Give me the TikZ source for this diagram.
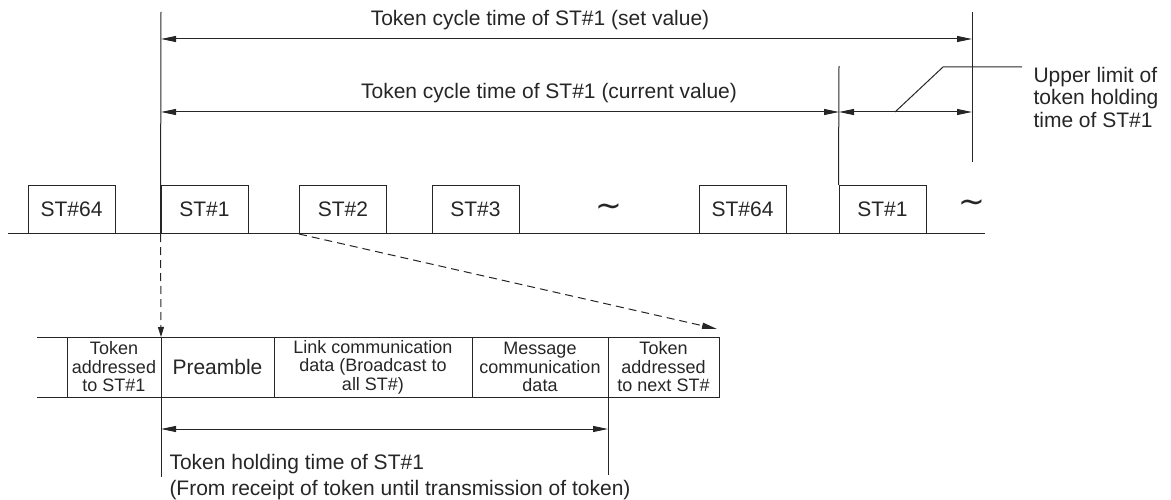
\documentclass[tikz,border=0pt]{standalone}
\usepackage{fontspec}
\setmainfont{Liberation Sans}
\newfontfamily\wavefont{DejaVu Sans}
\usetikzlibrary{arrows.meta, positioning}

\begin{document}
\begin{tikzpicture}[
    x=1pt, y=-1pt,
    color=black!85,
    line width=1pt,
    >={Triangle[length=15pt, width=6pt]},
    station/.style={draw, minimum width=87pt, minimum height=48pt, inner sep=0pt, font=\fontsize{21}{24}\selectfont},
    cell/.style={draw, minimum height=60pt, inner sep=0pt, outer sep=0pt, align=center, font=\fontsize{18}{18.5}\selectfont},
    timetext/.style={inner sep=0pt, font=\fontsize{21}{22.5}\selectfont},
    wave/.style={inner sep=0pt, font=\wavefont\fontsize{32}{32}\selectfont},
    dashedarrow/.style={->, dash pattern=on 8pt off 5pt}
]
\useasboundingbox (0,0) rectangle (1171,500);

% stations on the line
\foreach \name/\xc/\txt in {st64a/71.5/ST\#64, st1a/204.5/ST\#1, st2/343/ST\#2, st3/475.5/ST\#3, st64b/742.5/ST\#64, st1b/882.5/ST\#1} {
    \node[station] (\name) at (\xc,209.5) {\txt};
}
\node[wave] (gap1) at (609,210) {∼};
\node[wave] (gap2) at (972,206) {∼};
\coordinate (lineL) at (8,233.5);
\coordinate (lineR) at (985,233.5);
\draw (lineL) -- (lineR);

% time marks
\coordinate (v1top) at (161,12);
\coordinate (v2top) at (839,66);
\coordinate (v3top) at (972,12);
\coordinate (v3bot) at (972,162);
\draw (v1top) -- (st1a.south west);
\draw (v2top) -- (st1b.north west);
\draw (v3top) -- (v3bot);

% cycle times
\coordinate (setL) at (161,39);
\coordinate (setR) at (972,39);
\coordinate (curL) at (161,112);
\coordinate (curM) at (839,112);
\coordinate (curR) at (972,112);
\draw[<->] (setL) -- (setR);
\draw[<->] (curL) -- (curM);
\draw[<->] (curM) -- (curR);
\node[timetext, anchor=base] (setlbl) at (540,26) {Token cycle time of ST\#1 (set value)};
\node[timetext, anchor=base] (curlbl) at (549,99) {Token cycle time of ST\#1 (current value)};

% upper limit callout
\node[timetext, anchor=west, align=left] (limitlbl) at (1033,97) {Upper limit of\\token holding\\time of ST\#1};
\coordinate (lead0) at (895,112);
\coordinate (lead1) at (943,67);
\coordinate (lead2) at (1022,67);
\draw (lead0) -- (lead1) -- (lead2);

% frame
\node[cell, minimum width=94pt] (c1) at (114,367) {Token\\addressed\\to ST\#1};
\node[cell, minimum width=113pt, right=0pt of c1, font=\fontsize{21}{24}\selectfont] (c2) {Preamble};
\node[cell, minimum width=198pt, right=0pt of c2] (c3) {Link communication\\data (Broadcast to\\all ST\#)};
\node[cell, minimum width=136pt, right=0pt of c3] (c4) {Message\\communication\\data};
\node[cell, minimum width=111pt, right=0pt of c4] (c5) {Token\\addressed\\to next ST\#};
\coordinate (tabTL) at (37,337);
\coordinate (tabBL) at (37,397);
\draw (tabTL) -- (c1.north west);
\draw (tabBL) -- (c1.south west);

% zoom into the frame
\coordinate (nextST) at (717,329);
\draw[dashedarrow, -{Triangle[length=10pt, width=6pt]}] (st1a.south west) -- (c2.north west);
\draw[dashedarrow] (st2.south west) -- (nextST);

% token holding time
\coordinate (holdL) at (161,477);
\coordinate (holdR) at (608,475);
\coordinate (holdA) at (161,429);
\coordinate (holdB) at (608,429);
\draw (c2.south west) -- (holdL);
\draw (c4.south east) -- (holdR);
\draw[<->] (holdA) -- (holdB);
\node[timetext, anchor=north west, align=left, font=\fontsize{21}{26}\selectfont] (holdlbl) at (169,454) {Token holding time of ST\#1\\(From receipt of token until transmission of token)};

\end{tikzpicture}
\end{document}
